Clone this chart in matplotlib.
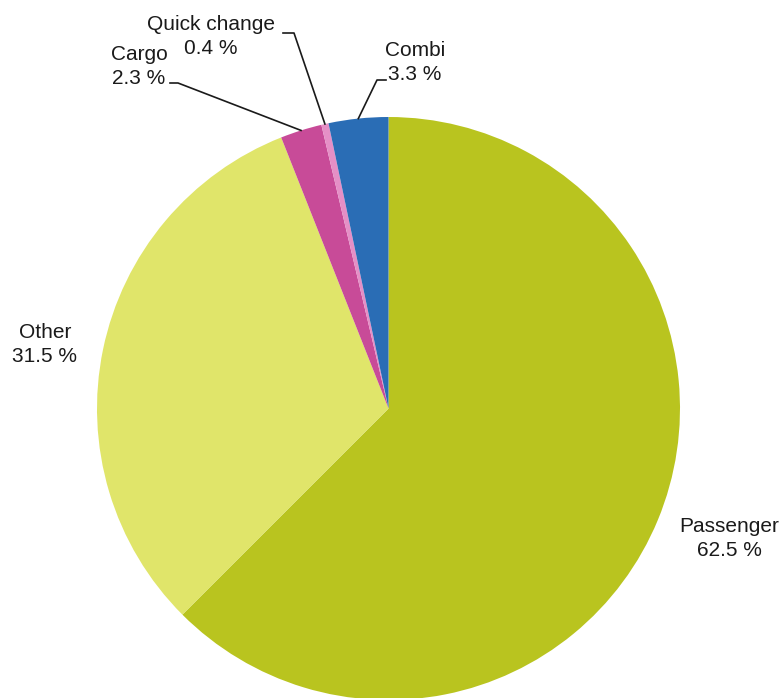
import numpy as np
import matplotlib.pyplot as plt

plt.rcParams['font.family'] = ['Liberation Sans', 'DejaVu Sans']

W, H = 784, 698

categories = ['Passenger', 'Other', 'Cargo', 'Quick change', 'Combi']
shares = [62.5, 31.5, 2.3, 0.4, 3.3]
colors = ['#b9c41f', '#e0e56a', '#c84b98', '#e58fc6', '#2a6db5']

# label block centre (pixel coords, y down) and optional leader elbow
label_pos = {
    'Passenger': (729, 539),
    'Other': (45, 345),
    'Cargo': (139, 66),
    'Quick change': (211, 37),
    'Combi': (415, 63),
}
leader = {
    'Cargo': [(170, 83), (178, 83)],
    'Quick change': [(283, 33), (294, 33)],
    'Combi': [(386, 80), (377, 80)],
}
LINE_GAP = 24


def py(y):
    return H - y


fig = plt.figure(figsize=(W / 100, H / 100), dpi=100)
ax = fig.add_axes([0, 0, 1, 1])

cx, cy, r = 388.5, 408.5, 291.5
wedges, _ = ax.pie(shares, colors=colors, startangle=90, counterclock=False,
                   center=(cx, py(cy)), radius=r, frame=True,
                   wedgeprops=dict(linewidth=0))
ax.set_xlim(0, W)
ax.set_ylim(0, H)
ax.set_aspect('equal')
ax.axis('off')

for w, name, val in zip(wedges, categories, shares):
    lx, ly = label_pos[name]
    # name and value as two separate lines
    ax.text(lx, py(ly - LINE_GAP / 2), name, ha='center', va='center',
            fontsize=15, color='#1a1a1a')
    ax.text(lx, py(ly + LINE_GAP / 2), f"{val:.1f} %", ha='center', va='center',
            fontsize=15, color='#1a1a1a')
    if name in leader:
        mid = np.deg2rad((w.theta1 + w.theta2) / 2)
        ax_x = cx + r * np.cos(mid)
        ax_y = py(cy) + r * np.sin(mid)
        pts = leader[name]
        xs = [p[0] for p in pts] + [ax_x]
        ys = [py(p[1]) for p in pts] + [ax_y]
        ax.plot(xs, ys, color='#1a1a1a', lw=1.2)

fig.savefig('out.png', dpi=100)
